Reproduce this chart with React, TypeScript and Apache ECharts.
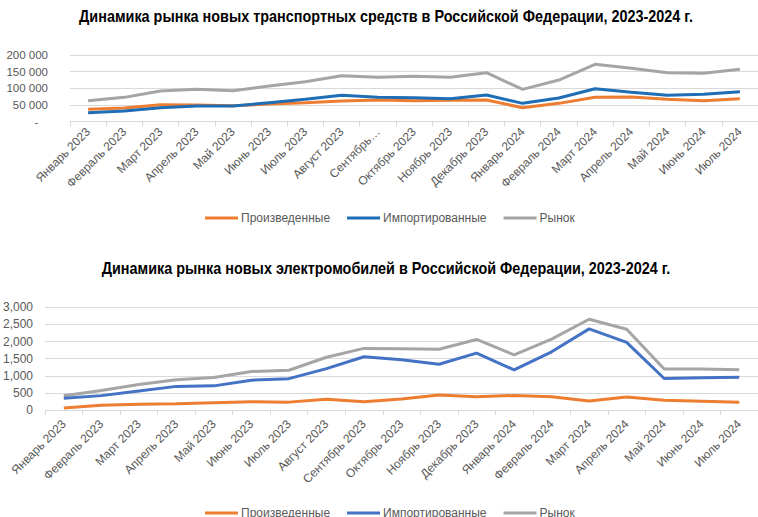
import React, { useEffect, useRef } from "react";
import * as echarts from "echarts";

const months = [
  "Январь 2023", "Февраль 2023", "Март 2023", "Апрель 2023", "Май 2023", "Июнь 2023",
  "Июль 2023", "Август 2023", "Сентябрь 2023", "Октябрь 2023", "Ноябрь 2023", "Декабрь 2023",
  "Январь 2024", "Февраль 2024", "Март 2024", "Апрель 2024", "Май 2024", "Июнь 2024", "Июль 2024",
];

const seriesNames = ["Произведенные", "Импортированные", "Рынок"];

// Chart 1: all new vehicles
const vehProduced = [37000, 41000, 51000, 50000, 48000, 53000, 57000, 62000, 65000, 63000, 64000, 65000, 42000, 55000, 73000, 74000, 67000, 63000, 69000];
const vehImported = [27000, 32000, 42000, 47000, 47000, 57000, 67000, 79000, 73000, 72000, 69000, 80000, 55000, 71000, 99000, 88000, 79000, 82000, 90000];
const vehMarket = [63000, 73000, 92000, 97000, 93000, 107000, 120000, 138000, 133000, 136000, 133000, 147000, 97000, 125000, 172000, 160000, 147000, 145000, 157000];

// Chart 2: electric vehicles
const evProduced = [60, 140, 170, 185, 215, 240, 230, 315, 240, 320, 435, 390, 425, 385, 265, 380, 283, 254, 225];
const evImported = [340, 420, 555, 690, 705, 870, 915, 1210, 1555, 1470, 1335, 1660, 1170, 1700, 2370, 1975, 920, 945, 955];
const evMarket = [415, 570, 745, 885, 950, 1125, 1160, 1540, 1800, 1790, 1775, 2060, 1610, 2070, 2650, 2360, 1200, 1200, 1175];

const title1 = "Динамика рынка новых транспортных средств в Российской Федерации, 2023-2024 г.";
const title2 = "Динамика рынка новых электромобилей в Российской Федерации, 2023-2024 г.";

const ORANGE = "#ED7D31";
const BLUE1 = "#1F6DB5";
const BLUE2 = "#4472C4";
const GRAY = "#A5A5A5";
const TEXT = "#595959";
const GRID = "#D9D9D9";
const FONT = "'Liberation Sans', Arial, sans-serif";

function makeOption(cfg: {
  title: string;
  titleY: number;
  gridLeft: number;
  gridTop: number;
  gridWidth: number;
  gridHeight: number;
  yMax: number;
  yInterval: number;
  yFormatter: (v: number) => string;
  yFontSize: number;
  yMargin: number;
  xFormatter: (v: string) => string;
  xMargin: number;
  legendTop: number;
  data: number[][];
  colors: string[];
}) {
  return {
    animation: false,
    textStyle: { fontFamily: FONT },
    graphic: [
      {
        type: "text",
        x: 386,
        y: cfg.titleY,
        scaleX: 0.9,
        style: {
          text: cfg.title,
          font: `bold 16px ${FONT}`,
          fill: "#000000",
          textAlign: "center",
          textVerticalAlign: "middle",
        },
      },
    ],
    legend: {
      top: cfg.legendTop,
      left: 205,
      padding: 0,
      icon: "rect",
      itemWidth: 33,
      itemHeight: 3,
      itemGap: 17,
      textStyle: { color: TEXT, fontSize: 12, fontFamily: FONT, padding: [0, 0, 0, -2] },
      data: seriesNames,
    },
    grid: {
      left: cfg.gridLeft,
      top: cfg.gridTop,
      width: cfg.gridWidth,
      height: cfg.gridHeight,
      containLabel: false,
    },
    xAxis: {
      type: "category",
      data: months,
      boundaryGap: true,
      axisLine: { lineStyle: { color: GRID, width: 1 } },
      axisTick: { show: true, length: 5, lineStyle: { color: GRID } },
      axisLabel: {
        rotate: 45,
        interval: 0,
        color: TEXT,
        fontSize: 12,
        margin: cfg.xMargin,
        fontFamily: FONT,
        formatter: cfg.xFormatter,
      },
    },
    yAxis: {
      type: "value",
      min: 0,
      max: cfg.yMax,
      interval: cfg.yInterval,
      axisLine: { show: false },
      axisTick: { show: false },
      splitLine: { lineStyle: { color: GRID, width: 1 } },
      axisLabel: {
        color: TEXT,
        fontSize: cfg.yFontSize,
        margin: cfg.yMargin,
        fontFamily: FONT,
        formatter: cfg.yFormatter,
      },
    },
    series: seriesNames.map((name, i) => ({
      name,
      type: "line",
      data: cfg.data[i],
      symbol: "none",
      smooth: false,
      lineStyle: { color: cfg.colors[i], width: 3 },
      itemStyle: { color: cfg.colors[i] },
      z: i === 2 ? 1 : i === 0 ? 2 : 3,
    })),
  };
}

function spaceThousands(v: number): string {
  if (v === 0) return "-   ";
  return String(v).replace(/\B(?=(\d{3})+(?!\d))/g, " ");
}

function commaThousands(v: number): string {
  return String(v).replace(/\B(?=(\d{3})+(?!\d))/g, ",");
}

export default function App() {
  const ref1 = useRef<HTMLDivElement>(null);
  const ref2 = useRef<HTMLDivElement>(null);

  useEffect(() => {
    document.body.style.margin = "0";
    const c1 = echarts.init(ref1.current!, undefined, { renderer: "svg" });
    const c2 = echarts.init(ref2.current!, undefined, { renderer: "svg" });

    c1.setOption(
      makeOption({
        title: title1,
        titleY: 16,
        gridLeft: 70,
        gridTop: 55,
        gridWidth: 692,
        gridHeight: 66.7,
        yMax: 200000,
        yInterval: 50000,
        yFormatter: spaceThousands,
        yFontSize: 11.5,
        yMargin: 22,
        xFormatter: (v: string) => (v === "Сентябрь 2023" ? "Сентябрь…" : v),
        xMargin: 8,
        legendTop: 212,
        data: [vehProduced, vehImported, vehMarket],
        colors: [ORANGE, BLUE1, GRAY],
      }) as any
    );

    c2.setOption(
      makeOption({
        title: title2,
        titleY: 18,
        gridLeft: 44.3,
        gridTop: 57.3,
        gridWidth: 718,
        gridHeight: 102.7,
        yMax: 3000,
        yInterval: 500,
        yFormatter: commaThousands,
        yFontSize: 12,
        yMargin: 12,
        xFormatter: (v: string) => v,
        xMargin: 12,
        legendTop: 257,
        data: [evProduced, evImported, evMarket],
        colors: [ORANGE, BLUE2, GRAY],
      }) as any
    );

    return () => {
      c1.dispose();
      c2.dispose();
    };
  }, []);

  return (
    <div style={{ position: "relative", width: 758, height: 517, overflow: "hidden", background: "#fff" }}>
      <div ref={ref1} style={{ position: "absolute", left: 0, top: 0, width: 758, height: 250 }} />
      <div ref={ref2} style={{ position: "absolute", left: 0, top: 250, width: 758, height: 267 }} />
    </div>
  );
}
